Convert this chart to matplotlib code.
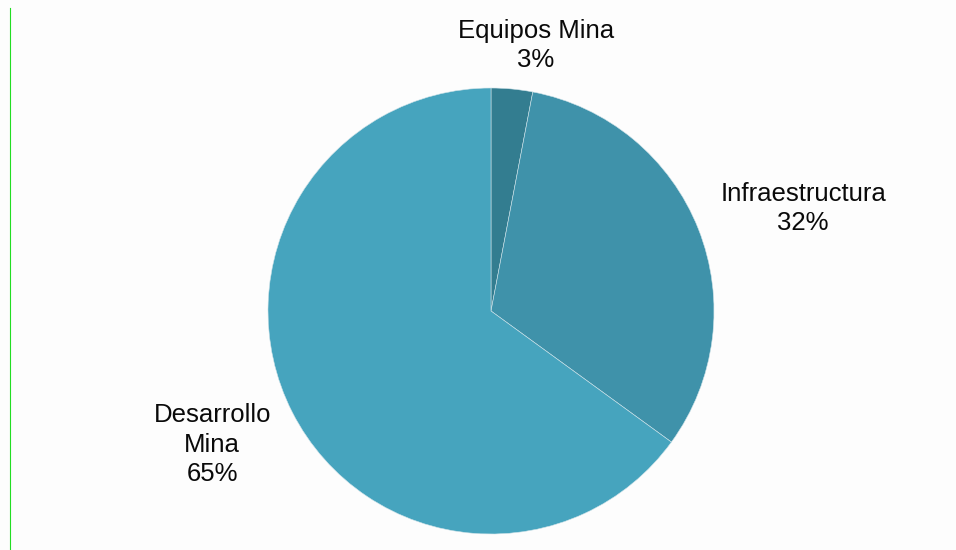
import matplotlib
matplotlib.use("Agg")
import matplotlib.pyplot as plt
from matplotlib.lines import Line2D

labels = ["Equipos Mina", "Infraestructura", "Desarrollo\nMina"]
shares = [3, 32, 65]
colors = ["#337d90", "#3f92aa", "#46a4be"]
# label anchor points (radius units from the pie centre)
label_xy = [(0.20, 1.19), (1.40, 0.46), (-1.25, -0.60)]

plt.rcParams['font.family'] = ['Liberation Sans', 'DejaVu Sans']

fig = plt.figure(figsize=(9.56, 5.5), dpi=100)
fig.patch.set_facecolor("#fdfdfd")

cx, cy, r = 491, 311, 223
W, H = 956, 550
ax = fig.add_axes([(cx - r) / W, (H - cy - r) / H, 2 * r / W, 2 * r / H])
wedges, texts = ax.pie(shares, labels=labels, colors=colors, startangle=90,
                       counterclock=False, radius=1.0,
                       wedgeprops=dict(edgecolor="#cfe3e9", linewidth=0.4))
ax.set_xlim(-1, 1)
ax.set_ylim(-1, 1)
ax.set_aspect("equal")
ax.axis("off")

for t, lab, v, (x, y) in zip(texts, labels, shares, label_xy):
    t.set_text(f"{lab}\n{v}%")
    t.set_position((x, y))
    t.set_ha("center")
    t.set_va("center")
    t.set_fontsize(18.5)
    t.set_color("#0a0a0a")
    t.set_linespacing(1.28)
    t.set_clip_on(False)

# thin border line on the left edge
fig.add_artist(Line2D([9.5 / W, 9.5 / W], [0, 1 - 8 / H], color="#22dd22",
                      linewidth=0.8, transform=fig.transFigure))

fig.savefig("out.png", dpi=100, facecolor=fig.get_facecolor())
